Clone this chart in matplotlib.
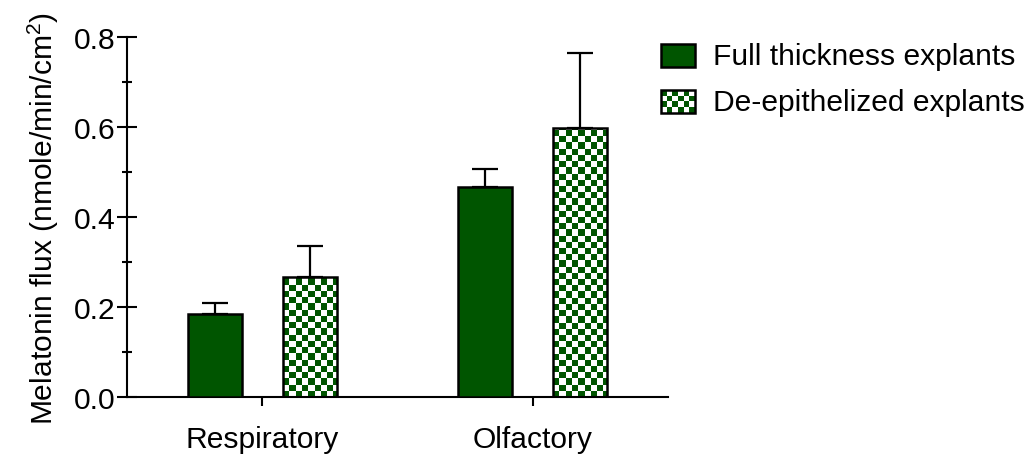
import numpy as np
import matplotlib
matplotlib.use("Agg")
import matplotlib.pyplot as plt
from matplotlib.colors import ListedColormap
from matplotlib.patches import Rectangle

plt.rcParams["font.family"] = ["Liberation Sans", "DejaVu Sans"]
plt.rcParams["mathtext.fontset"] = "custom"
plt.rcParams["mathtext.rm"] = "Liberation Sans"
plt.rcParams["mathtext.it"] = "Liberation Sans"

# Data
regions = ["Respiratory", "Olfactory"]
full_thickness = [0.184, 0.466]
full_thickness_err = [0.025, 0.041]
de_epithelized = [0.267, 0.597]
de_epithelized_err = [0.068, 0.167]
series_names = ["Full thickness explants", "De-epithelized explants"]
y_ticks = [0.0, 0.2, 0.4, 0.6, 0.8]
y_minor = [0.1, 0.3, 0.5, 0.7]

GREEN = "#005500"
FS = 21.6
W, H, DPI = 1029, 456, 100

fig = plt.figure(figsize=(W / DPI, H / DPI), dpi=DPI)
ax = fig.add_axes([127 / W, 1 - 398 / H, (668 - 127) / W, (398 - 38) / H])
xlim = (-0.5, 1.5)
ylim = (0.0, 0.8)

x = np.arange(len(regions))
offset, width = 0.175, 0.2
cell_px = 6.2


def checker_fill(axes, patch, x0, y0, w, h, px_per_x, px_per_y):
    """Fill a rectangle with a green/white checkerboard clipped to patch."""
    nx = int(np.ceil(w * px_per_x / cell_px))
    ny = int(np.ceil(h * px_per_y / cell_px))
    board = np.add.outer(np.arange(ny), np.arange(nx)) % 2
    im = axes.imshow(board, extent=(x0, x0 + nx * cell_px / px_per_x,
                                    y0, y0 + ny * cell_px / px_per_y),
                     origin="lower", cmap=ListedColormap([GREEN, "white"]),
                     interpolation="nearest", aspect="auto", zorder=2)
    im.set_clip_path(patch)


px_x = (668 - 127) / (xlim[1] - xlim[0])
px_y = (398 - 38) / (ylim[1] - ylim[0])

bars_full = ax.bar(x - offset, full_thickness, width, color=GREEN,
                   edgecolor="black", linewidth=1.8, zorder=3)
bars_de = ax.bar(x + offset, de_epithelized, width, facecolor="none",
                 edgecolor="black", linewidth=1.8, zorder=3)
for b in bars_de:
    checker_fill(ax, b, b.get_x(), 0.0, b.get_width(), b.get_height(), px_x, px_y)

ax.errorbar(x - offset, full_thickness,
            yerr=[np.zeros(len(regions)), full_thickness_err],
            fmt="none", ecolor="black", elinewidth=1.6, capsize=9.7,
            capthick=1.6, zorder=2.5)
ax.errorbar(x + offset, de_epithelized,
            yerr=[np.zeros(len(regions)), de_epithelized_err],
            fmt="none", ecolor="black", elinewidth=1.6, capsize=9.7,
            capthick=1.6, zorder=2.5)

ax.set_xlim(*xlim)
ax.set_ylim(*ylim)
ax.set_xticks(x)
ax.set_xticklabels(regions, fontsize=FS)
ax.set_yticks(y_ticks)
ax.set_yticklabels([f"{v:.1f}" for v in y_ticks], fontsize=FS)
ax.set_yticks(y_minor, minor=True)
ax.tick_params(axis="y", which="major", direction="inout", length=14.4,
               width=1.5, pad=1)
ax.tick_params(axis="y", which="minor", direction="inout", length=6.5,
               width=1.5)
ax.tick_params(axis="x", which="major", direction="out", length=6.5,
               width=1.5, pad=14)
for side in ("top", "right"):
    ax.spines[side].set_visible(False)
for side in ("left", "bottom"):
    ax.spines[side].set_linewidth(1.5)
ax.set_ylabel("Melatonin flux (nmole/min/cm$^2$)", fontsize=FS, labelpad=9)

# Legend drawn in figure pixel coordinates
lax = fig.add_axes([0, 0, 1, 1], zorder=5)
lax.set_xlim(0, W)
lax.set_ylim(H, 0)
lax.axis("off")
sw = lax.add_patch(Rectangle((661, 45), 34, 23, facecolor=GREEN,
                             edgecolor="black", linewidth=1.8, zorder=3))
sw2 = lax.add_patch(Rectangle((661, 91), 34, 23, facecolor="none",
                              edgecolor="black", linewidth=1.8, zorder=3))
nx, ny = 6, 4
board = np.add.outer(np.arange(ny), np.arange(nx)) % 2
im = lax.imshow(board, extent=(661, 661 + 34, 91 + 23, 91),
                cmap=ListedColormap([GREEN, "white"]),
                interpolation="nearest", aspect="auto", zorder=2)
im.set_clip_path(sw2)
lax.set_xlim(0, W)
lax.set_ylim(H, 0)
lax.text(713, 57, series_names[0], fontsize=FS, va="center", ha="left")
lax.text(713, 103, series_names[1], fontsize=FS, va="center", ha="left")

fig.savefig("out.png", dpi=DPI)
